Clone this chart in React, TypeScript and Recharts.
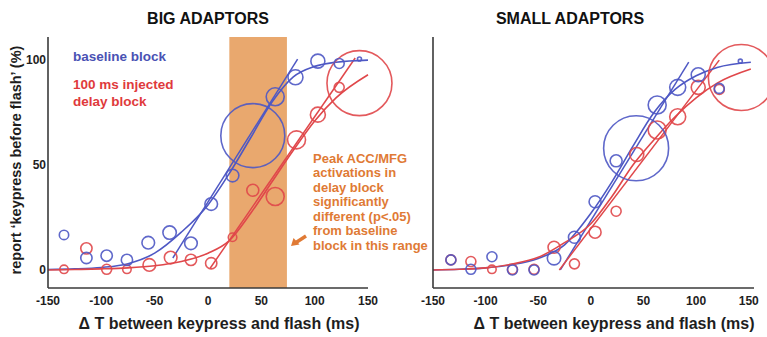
import {
  ComposedChart,
  Line,
  ReferenceArea,
  Scatter,
  XAxis,
  YAxis,
  ZAxis,
} from "recharts";

const BLUE = "#4e58c4";
const RED = "#e0474a";
const ORANGE = "#e07a35";
const SHADE = "#e9a86e";
const FONT = "'Liberation Sans', Arial, sans-serif";

const xTicks = [-150, -100, -50, 0, 50, 100, 150];
const yTicks = [0, 50, 100];

// big adaptors: circles (x ms, y %, n = circle weight)
const bigBlueX = [-135, -114, -95, -76, -56, -36, -16, 3, 23, 42, 63, 82, 103, 123, 142];
const bigBlueY = [16.7, 5.7, 6.8, 4.8, 13, 17.8, 12.7, 31.4, 45, 64, 82.5, 91.8, 99.5, 98.4, 100.5];
const bigBlueN = [22, 32, 32, 32, 40, 45, 40, 40, 40, 1024, 81, 56, 49, 25, 4];

const bigRedX = [-135, -114, -95, -76, -55, -35, -16, 3, 23, 42, 63, 83, 103, 123, 142];
const bigRedY = [0.3, 10.3, 0.3, 0.3, 2.4, 5.9, 4.8, 3.2, 15.6, 38, 35, 62, 74, 87, 89];
const bigRedN = [18, 32, 25, 18, 40, 40, 32, 32, 18, 36, 81, 81, 56, 25, 1056];

// big adaptors: fitted curves and tangents
const bigBlueCurveX = [-150, -125, -100, -75, -50, -25, 0, 20, 40, 60, 80, 100, 120, 150];
const bigBlueCurveY = [0.2, 0.5, 1.2, 3, 8, 18, 31, 46, 63, 80, 92, 97, 99, 100];
const bigRedCurveX = [-150, -125, -100, -75, -50, -25, 0, 20, 40, 60, 80, 100, 120, 150];
const bigRedCurveY = [0, 0.2, 0.5, 1, 2, 4, 8, 14, 27, 42, 57, 71, 82, 93];
const bigBlueTanX = [-33, 84];
const bigBlueTanY = [5.7, 100.5];
const bigRedTanX = [2, 138];
const bigRedTanY = [0.8, 101];

// small adaptors
const smallBlueX = [-133, -114, -94, -74.5, -54, -35, -15.6, 4, 24, 43, 63, 82.5, 102, 122, 142];
const smallBlueY = [4.8, 0.3, 6.3, 0, 0, 5.6, 15.6, 32.5, 52, 58, 78.6, 87, 93, 86.5, 99.5];
const smallBlueN = [25, 25, 25, 25, 25, 45, 36, 36, 36, 1056, 81, 64, 49, 25, 4];

const smallRedX = [-133, -114, -94, -74.5, -54, -35, -15.6, 4, 24, 43.6, 63, 82.5, 102, 122, 143];
const smallRedY = [4.8, 4, 0.3, 0.3, 0.3, 10.8, 2.9, 18, 28, 55, 66.7, 73, 87, 86, 91.7];
const smallRedN = [25, 25, 18, 25, 25, 36, 25, 36, 25, 49, 81, 64, 49, 25, 1089];

const smallBlueCurveX = [-150, -125, -100, -75, -50, -25, 0, 20, 40, 60, 80, 100, 120, 152];
const smallBlueCurveY = [0, 0.3, 1, 2.5, 5.5, 12, 27, 42, 59, 75, 86, 92.5, 96.5, 99];
const smallRedCurveX = [-150, -125, -100, -75, -50, -25, 0, 20, 40, 60, 80, 100, 120, 152];
const smallRedCurveY = [0, 0.3, 1, 2.8, 6, 13, 22, 35, 50, 62, 73, 82, 89, 95.7];
const smallBlueTanX = [-29, 93];
const smallBlueTanY = [0, 99];
const smallRedTanX = [-30, 122];
const smallRedTanY = [0, 100];

const pts = (xs: number[], ys: number[], ns?: number[]) =>
  xs.map((x, i) => ({ x, y: ys[i], n: ns ? ns[i] : 0 }));

const ring = (color: string) => (p: any) => {
  const r = p.width ? p.width / 2 : Math.sqrt(p.payload.n);
  return (
    <circle cx={p.cx} cy={p.cy} r={r} fill="none" stroke={color} strokeWidth={1.6} strokeOpacity={0.9} />
  );
};

const axisLine = { stroke: "#3a3a3a", strokeWidth: 1.6 };
const tickStyle = { fill: "#1e1e1e", fontSize: 12, fontWeight: 700, fontFamily: FONT };

type PanelProps = {
  width: number;
  margin: { top: number; right: number; bottom: number; left: number };
  xMax: number;
  showY: boolean;
  shade?: [number, number];
  blue: any[];
  red: any[];
  blueCurve: any[];
  redCurve: any[];
  blueTan: any[];
  redTan: any[];
};

function Panel(p: PanelProps) {
  return (
    <ComposedChart width={p.width} height={337} margin={p.margin}>
      <XAxis
        type="number"
        dataKey="x"
        domain={[-150, p.xMax]}
        ticks={xTicks}
        interval={0}
        axisLine={axisLine}
        tickLine={false}
        tickSize={0}
        tickMargin={8}
        height={30}
        tick={tickStyle}
      />
      <YAxis
        type="number"
        dataKey="y"
        domain={[-8.6, 111]}
        ticks={yTicks}
        interval={0}
        axisLine={axisLine}
        tickLine={false}
        tickSize={0}
        tickMargin={2}
        width={30}
        tick={p.showY ? tickStyle : false}
      />
      <ZAxis type="number" dataKey="n" domain={[0, 1089]} range={[0, Math.PI * 1089]} />
      {p.shade && (
        <ReferenceArea x1={p.shade[0]} x2={p.shade[1]} fill={SHADE} fillOpacity={1} stroke="none" />
      )}
      <Line data={p.blueTan} dataKey="y" type="linear" stroke={BLUE} strokeWidth={1.5} dot={false} isAnimationActive={false} />
      <Line data={p.redTan} dataKey="y" type="linear" stroke={RED} strokeWidth={1.5} dot={false} isAnimationActive={false} />
      <Line data={p.blueCurve} dataKey="y" type="monotone" stroke={BLUE} strokeWidth={1.6} dot={false} isAnimationActive={false} />
      <Line data={p.redCurve} dataKey="y" type="monotone" stroke={RED} strokeWidth={1.6} dot={false} isAnimationActive={false} />
      <Scatter data={p.red} shape={ring(RED)} isAnimationActive={false} />
      <Scatter data={p.blue} shape={ring(BLUE)} isAnimationActive={false} />
    </ComposedChart>
  );
}

const abs = (left: number, top: number, extra: any = {}) => ({
  position: "absolute" as const,
  left,
  top,
  fontFamily: FONT,
  fontWeight: 700,
  whiteSpace: "nowrap" as const,
  ...extra,
});

export default function App() {
  return (
    <div style={{ position: "relative", width: 767, height: 337, overflow: "hidden", background: "#fff" }}>
      <style>{"body{margin:0}"}</style>
      <div style={{ position: "absolute", left: 0, top: 0 }}>
        <Panel
          width={400}
          margin={{ top: 37, right: 32, bottom: 19, left: 18 }}
          xMax={150}
          showY
          shade={[20, 74]}
          blue={pts(bigBlueX, bigBlueY, bigBlueN)}
          red={pts(bigRedX, bigRedY, bigRedN)}
          blueCurve={pts(bigBlueCurveX, bigBlueCurveY)}
          redCurve={pts(bigRedCurveX, bigRedCurveY)}
          blueTan={pts(bigBlueTanX, bigBlueTanY)}
          redTan={pts(bigRedTanX, bigRedTanY)}
        />
      </div>
      <div style={{ position: "absolute", left: 390, top: 0 }}>
        <Panel
          width={377}
          margin={{ top: 37, right: 13, bottom: 19, left: 13 }}
          xMax={155}
          showY={false}
          blue={pts(smallBlueX, smallBlueY, smallBlueN)}
          red={pts(smallRedX, smallRedY, smallRedN)}
          blueCurve={pts(smallBlueCurveX, smallBlueCurveY)}
          redCurve={pts(smallRedCurveX, smallRedCurveY)}
          blueTan={pts(smallBlueTanX, smallBlueTanY)}
          redTan={pts(smallRedTanX, smallRedTanY)}
        />
      </div>

      <div style={abs(108, 10.5, { width: 200, textAlign: "center", fontSize: 16, lineHeight: "16px", color: "#111" })}>
        BIG ADAPTORS
      </div>
      <div style={abs(470, 10.5, { width: 200, textAlign: "center", fontSize: 16, lineHeight: "16px", color: "#111" })}>
        SMALL ADAPTORS
      </div>

      <div
        style={abs(-134, 152, {
          width: 300,
          textAlign: "center",
          fontSize: 14.5,
          lineHeight: "16px",
          color: "#1e1e1e",
          transform: "rotate(-90deg)",
        })}
      >
        report ‘keypress before flash’ (%)
      </div>

      <div style={abs(69, 315.5, { width: 300, textAlign: "center", fontSize: 16, lineHeight: "16px", color: "#1e1e1e" })}>
        Δ T between keypress and flash (ms)
      </div>
      <div style={abs(464, 315.5, { width: 300, textAlign: "center", fontSize: 16, lineHeight: "16px", color: "#1e1e1e" })}>
        Δ T between keypress and flash (ms)
      </div>

      <div style={abs(73, 50, { fontSize: 13.5, lineHeight: "13.5px", color: "#4a52b4" })}>baseline block</div>
      <div style={abs(73, 75.5, { fontSize: 13.5, lineHeight: "17px", color: "#e03a3c" })}>
        100 ms injected
        <br />
        delay block
      </div>

      <div style={abs(313, 151.5, { fontSize: 13, lineHeight: "14.5px", color: ORANGE })}>
        Peak ACC/MFG
        <br />
        activations in
        <br />
        delay block
        <br />
        significantly
        <br />
        different (p&lt;.05)
        <br />
        from baseline
        <br />
        block in this range
      </div>

      <svg style={{ position: "absolute", left: 285, top: 230 }} width={30} height={22}>
        <line x1={21} y1={6} x2={11} y2={12.5} stroke={ORANGE} strokeWidth={3.5} />
        <polygon points="6,16 8.5,8 14.5,14.5" fill={ORANGE} />
      </svg>
    </div>
  );
}
